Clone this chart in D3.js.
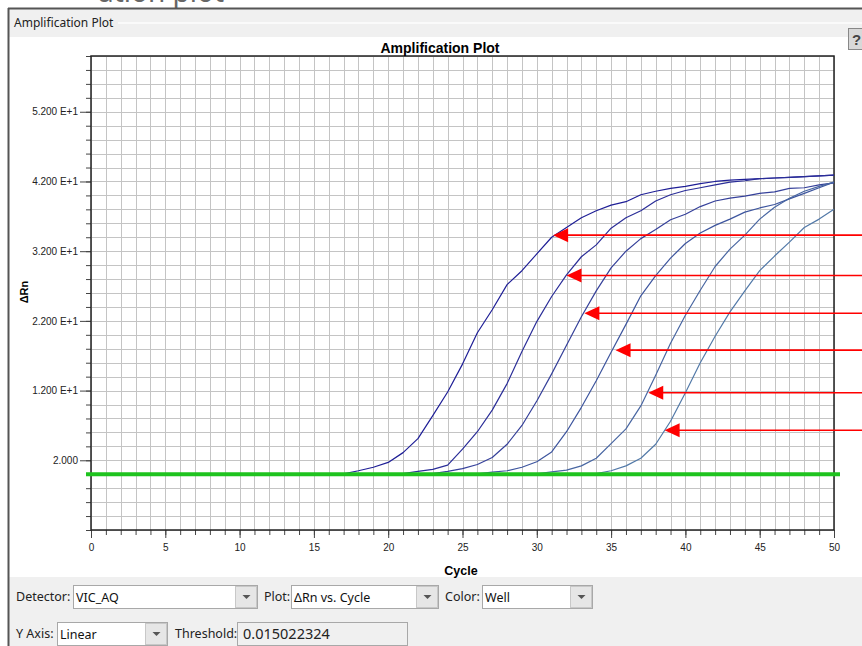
<!DOCTYPE html>
<html>
<head>
<meta charset="utf-8">
<script src="https://cdn.jsdelivr.net/npm/d3@7"></script>
<style>
  html, body { margin: 0; padding: 0; background: #fff; }
  svg { display: block; }
</style>
</head>
<body>
<script>
// 数据：每条扩增曲线的起始循环数和逐循环 ΔRn 值
const startCycles = [17, 21, 23, 26, 30, 34];
const curve1 = [0.05, 0.5, 1.0, 1.7, 3.1, 5.1, 8.4, 11.8, 15.8, 20.3, 23.6, 27.2, 29.2, 31.6, 34.0, 35.4, 36.8,
                37.8, 38.6, 39.1, 40.1, 40.6, 41.0, 41.3, 41.7, 42.0, 42.2, 42.3, 42.4, 42.5, 42.6, 42.7, 42.8, 42.9];
const curve2 = [0.1, 0.4, 0.7, 1.3, 3.6, 6.1, 9.2, 13.0, 17.6, 21.9, 25.5, 28.6, 31.2, 32.9, 35.3, 36.8,
                37.8, 39.2, 40.1, 40.7, 41.1, 41.5, 41.9, 42.1, 42.4, 42.5, 42.6, 42.7, 42.8, 42.9];
const curve3 = [0.1, 0.4, 0.8, 1.4, 2.4, 4.3, 7.0, 10.5, 14.4, 18.5, 22.6, 26.3, 29.6, 32.0, 33.8, 35.1,
                36.5, 37.3, 38.4, 39.2, 39.6, 39.9, 40.3, 40.5, 41.0, 41.1, 41.5, 41.8];
const curve4 = [0.05, 0.3, 0.5, 1.0, 1.8, 3.2, 6.1, 9.6, 13.4, 17.5, 21.5, 25.6, 28.5, 31.0, 33.1, 34.6,
                35.7, 36.6, 37.6, 38.2, 38.7, 39.5, 40.3, 41.1, 41.9];
const curve5 = [0.05, 0.35, 0.6, 1.2, 2.3, 4.4, 6.5, 9.8, 14.2, 18.8, 22.8, 26.4, 29.8, 32.3, 34.3, 36.6,
                38.3, 39.6, 40.6, 41.3, 41.9];
const curve6 = [0.1, 0.5, 1.2, 2.3, 4.3, 7.6, 11.7, 16.0, 19.8, 23.3, 26.3, 29.2, 31.3, 33.3, 35.4, 36.6, 38.0];
const curves = [curve1, curve2, curve3, curve4, curve5, curve6];
const curveColors = ["#1e1e96", "#2a2d98", "#35409a", "#3d559e", "#4866a2", "#5279a8"];

const threshold = 0.015022324;

// 红色箭头标注的位置（循环数, ΔRn）
const arrowCycles = [31.1, 32.0, 33.2, 35.3, 37.5, 38.6];
const arrowValues = [34.3, 28.5, 23.1, 17.8, 11.7, 6.3];

// 坐标轴刻度
const yTickValues = [2, 12, 22, 32, 42, 52];
const yTickLabels = ["2.000", "1.200 E+1", "2.200 E+1", "3.200 E+1", "4.200 E+1", "5.200 E+1"];
const xTickValues = [0, 5, 10, 15, 20, 25, 30, 35, 40, 45, 50];

const width = 862, height = 646;
const plot = { left: 91, right: 834, top: 56, bottom: 530 };
const uiFont = "'Noto Sans', 'Open Sans', sans-serif";
const chartFont = "'Liberation Sans', Arial, sans-serif";

const svg = d3.select('body').append('svg')
    .attr('width', width)
    .attr('height', height);

// 窗口背景
svg.append('rect').attr('x', 0).attr('y', 0).attr('width', width).attr('height', height).attr('fill', '#fff');
// 顶部被截断的大标题（原图上方只露出一点）
svg.append('text')
    .attr('x', 98).attr('y', 2)
    .attr('font-family', uiFont).attr('font-size', 28).attr('fill', '#666')
    .text('ation plot');
// 标题栏
svg.append('rect').attr('x', 9).attr('y', 9).attr('width', width - 9).attr('height', 28).attr('fill', '#f0f0f0');
svg.append('line').attr('x1', 118).attr('x2', width).attr('y1', 23).attr('y2', 23)
    .attr('stroke', '#fafafa').attr('stroke-width', 2);
svg.append('text')
    .attr('x', 14).attr('y', 27)
    .attr('font-family', uiFont).attr('font-size', 12).attr('fill', '#222')
    .text('Amplification Plot');
// "?" 按钮
svg.append('rect').attr('x', 848.5).attr('y', 28.5).attr('width', 20).attr('height', 21)
    .attr('fill', '#d8d8d8').attr('stroke', '#888');
svg.append('text').attr('x', 852).attr('y', 45)
    .attr('font-family', chartFont).attr('font-size', 15).attr('font-weight', 'bold').attr('fill', '#444')
    .text('?');
// 底部控件面板
svg.append('rect').attr('x', 9).attr('y', 577).attr('width', width - 9).attr('height', height - 577).attr('fill', '#f0f0f0');
// 窗口边框
svg.append('line').attr('x1', 8).attr('x2', width).attr('y1', 8.5).attr('y2', 8.5).attr('stroke', '#555').attr('stroke-width', 2);
svg.append('line').attr('x1', 8.5).attr('x2', 8.5).attr('y1', 8).attr('y2', height).attr('stroke', '#555').attr('stroke-width', 2);

// 比例尺
const xScale = d3.scaleLinear().domain([0, 50]).range([plot.left, plot.right]);
const yScale = d3.scaleLinear().domain([-8, 60]).range([plot.bottom, plot.top]);

// 网格
const gridX = d3.range(0, 51, 1);
const gridY = d3.range(-8, 61, 2);
const grid = svg.append('g').attr('stroke', '#c4c4c4').attr('stroke-width', 1);
grid.selectAll('.vgrid').data(gridX).enter().append('line')
    .attr('x1', d => Math.round(xScale(d)) + 0.5).attr('x2', d => Math.round(xScale(d)) + 0.5)
    .attr('y1', plot.top).attr('y2', plot.bottom);
grid.selectAll('.hgrid').data(gridY).enter().append('line')
    .attr('x1', plot.left).attr('x2', plot.right)
    .attr('y1', d => Math.round(yScale(d)) + 0.5).attr('y2', d => Math.round(yScale(d)) + 0.5);

// 坐标轴
function styleAxis(g) {
    g.select('.domain').remove();
    g.selectAll('.tick line').attr('stroke', '#444');
    g.selectAll('.tick text').attr('fill', '#222').attr('font-family', chartFont).attr('font-size', 10);
}
svg.append('g').attr('transform', `translate(${plot.left},0)`)
    .call(d3.axisLeft(yScale).tickValues(gridY).tickSize(5).tickFormat(''))
    .call(styleAxis);
svg.append('g').attr('transform', `translate(${plot.left},0)`)
    .call(d3.axisLeft(yScale).tickValues(yTickValues).tickSize(11).tickPadding(2)
        .tickFormat((d, i) => yTickLabels[i]))
    .call(styleAxis);
svg.append('g').attr('transform', `translate(0,${plot.bottom})`)
    .call(d3.axisBottom(xScale).tickValues(gridX).tickSize(5).tickFormat(''))
    .call(styleAxis);
svg.append('g').attr('transform', `translate(0,${plot.bottom})`)
    .call(d3.axisBottom(xScale).tickValues(xTickValues).tickSize(8).tickPadding(6).tickFormat(d3.format('d')))
    .call(styleAxis);

// 边框
svg.append('rect')
    .attr('x', plot.left).attr('y', plot.top)
    .attr('width', plot.right - plot.left).attr('height', plot.bottom - plot.top)
    .attr('fill', 'none').attr('stroke', '#222').attr('stroke-width', 1.5);

// 标题和轴标签
svg.append('text')
    .attr('x', 440).attr('y', 53).attr('text-anchor', 'middle')
    .attr('font-family', chartFont).attr('font-size', 14).attr('font-weight', 'bold')
    .text('Amplification Plot');
svg.append('text')
    .attr('x', 461).attr('y', 575).attr('text-anchor', 'middle')
    .attr('font-family', chartFont).attr('font-size', 12.5).attr('font-weight', 'bold')
    .text('Cycle');
svg.append('text')
    .attr('transform', 'translate(28,292) rotate(-90)').attr('text-anchor', 'middle')
    .attr('font-family', chartFont).attr('font-size', 11).attr('font-weight', 'bold')
    .text('ΔRn');

// 扩增曲线
const line = d3.line()
    .x(d => xScale(d.cycle))
    .y(d => yScale(d.value));

svg.append('g').selectAll('.curve')
    .data(curves.map((vals, i) => vals.map((v, j) => ({ cycle: startCycles[i] + j, value: v }))))
    .enter().append('path')
    .attr('class', 'curve')
    .attr('d', line)
    .attr('fill', 'none')
    .attr('stroke', (d, i) => curveColors[i])
    .attr('stroke-width', 1.2)
    .attr('stroke-linejoin', 'round');

// 阈值线
svg.append('line')
    .attr('x1', plot.left - 5).attr('x2', plot.right + 6)
    .attr('y1', yScale(threshold)).attr('y2', yScale(threshold))
    .attr('stroke', '#1ec31e').attr('stroke-width', 4);

// 红色箭头
const arrows = svg.append('g');
arrowCycles.forEach((c, i) => {
    const tx = xScale(c), ty = yScale(arrowValues[i]);
    arrows.append('line')
        .attr('x1', tx + 12).attr('x2', width)
        .attr('y1', ty).attr('y2', ty)
        .attr('stroke', '#ff0000').attr('stroke-width', 1.6);
    arrows.append('path')
        .attr('d', `M${tx},${ty} L${tx + 15},${ty - 7} L${tx + 15},${ty + 7} Z`)
        .attr('fill', '#ff0000');
});

// 底部控件
function comboBox(x, y, w, h, label) {
    svg.append('rect').attr('x', x + 0.5).attr('y', y + 0.5).attr('width', w).attr('height', h)
        .attr('fill', '#fff').attr('stroke', '#a8a8a8');
    svg.append('rect').attr('x', x + w - 21.5).attr('y', y + 1.5).attr('width', 21).attr('height', h - 2)
        .attr('fill', '#e6e6e6').attr('stroke', '#c8c8c8');
    const cx = x + w - 10.5, cy = y + h / 2 + 0.5;
    svg.append('path').attr('d', `M${cx - 4},${cy - 2} L${cx + 4},${cy - 2} L${cx},${cy + 2} Z`).attr('fill', '#555');
    svg.append('text').attr('x', x + 3).attr('y', y + h / 2 + 5)
        .attr('font-family', uiFont).attr('font-size', 12.5).attr('fill', '#111').text(label);
}
function uiLabel(x, y, t) {
    svg.append('text').attr('x', x).attr('y', y)
        .attr('font-family', uiFont).attr('font-size', 12.5).attr('fill', '#222').text(t);
}
uiLabel(16, 601, 'Detector:');
comboBox(73, 585, 184, 23, 'VIC_AQ');
uiLabel(264, 601, 'Plot:');
comboBox(291, 585, 147, 23, 'ΔRn vs. Cycle');
uiLabel(445, 601, 'Color:');
comboBox(482, 585, 110, 23, 'Well');
uiLabel(16, 638, 'Y Axis:');
comboBox(57, 622, 110, 23, 'Linear');
uiLabel(175, 638, 'Threshold:');
svg.append('rect').attr('x', 237.5).attr('y', 622.5).attr('width', 170).attr('height', 23)
    .attr('fill', '#f0f0f0').attr('stroke', '#a8a8a8');
svg.append('text').attr('x', 243).attr('y', 639)
    .attr('font-family', uiFont).attr('font-size', 14.5).attr('fill', '#222').text(threshold.toString());
</script>
</body>
</html>
